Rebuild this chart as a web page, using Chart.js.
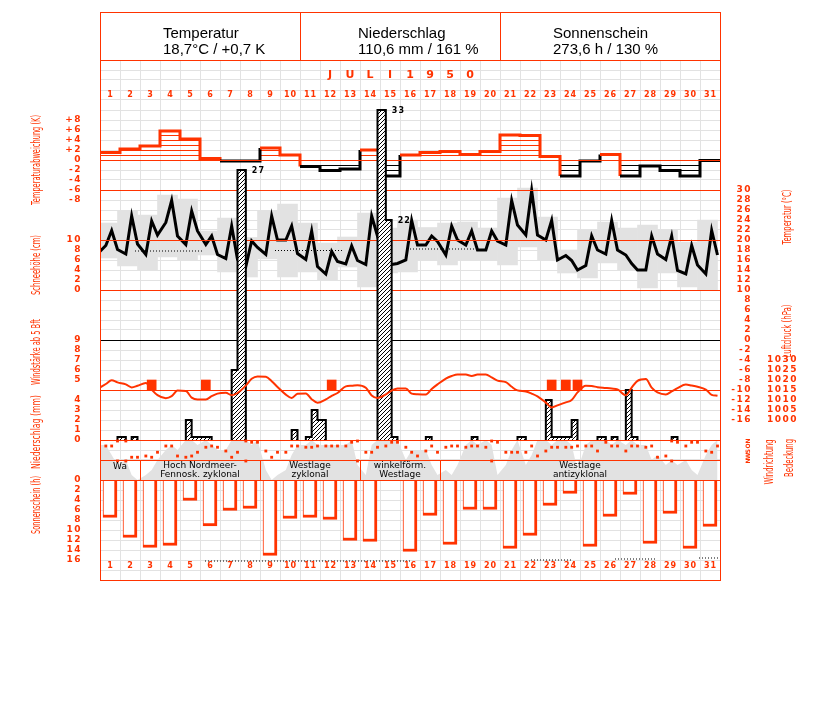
<!DOCTYPE html>
<html>
<head>
<meta charset="utf-8">
<title>Juli 1950</title>
<script src="https://cdn.jsdelivr.net/npm/chart.js@4.4.1/dist/chart.umd.min.js"></script>
<style>
  html, body { margin: 0; padding: 0; background: #fff; }
  #klima { display: block; }
</style>
</head>
<body>
<canvas id="klima" width="827" height="702"></canvas>
<script>
// ---- data ----
const days = [1, 2, 3, 4, 5, 6, 7, 8, 9, 10, 11, 12, 13, 14, 15, 16, 17, 18, 19, 20, 21, 22, 23, 24, 25, 26, 27, 28, 29, 30, 31];

// daily temperature anomaly (K)
const anomalyK = [1.5, 2.2, 2.8, 5.8, 4.2, 0.3, -0.2, -0.2, 2.4, 1.0, -1.3, -2.1, -1.8, 2.0, -3.2, 1.0,
  1.5, 1.7, 1.1, 1.7, 5.0, 4.9, 0.7, -3.2, -0.2, 1.1, -3.2, -1.2, -2.1, -3.2, -0.1];

// temperature at the 07, 14 and 21 h readings (°C)
const tempStart = 17.2;
const temp07 = [18.9, 17.2, 17.1, 23.5, 19.1, 19.1, 16.3, 14.7, 17.1, 20.0, 16.1, 13.2, 15.2, 15.1, 15.1, 16.0,
  19.0, 17.0, 19.0, 18.0, 19.0, 21.0, 20.0, 16.9, 14.9, 17.2, 17.0, 14.0, 16.1, 13.2, 13.2];
const temp14 = [21.9, 24.8, 23.8, 27.9, 25.8, 20.8, 22.8, 19.8, 24.8, 22.8, 21.8, 17.7, 18.8, 24.8, 15.1, 23.9,
  20.8, 22.8, 21.8, 21.8, 27.9, 29.9, 23.9, 15.9, 20.8, 23.9, 15.3, 20.8, 20.8, 18.9, 21.9];
const temp21 = [18.1, 19.2, 21.0, 20.8, 21.8, 17.1, 16.1, 18.5, 20.0, 17.3, 14.7, 15.7, 15.9, 20.8, 15.3, 19.0,
  19.7, 20.0, 18.0, 19.8, 23.0, 21.0, 16.0, 14.0, 18.0, 18.0, 14.0, 17.2, 13.9, 15.0, 17.0];

// daily extremes (°C), grey boxes
const tempMax = [23.4, 25.8, 25.0, 29.0, 28.2, 21.8, 24.4, 20.5, 25.8, 27.2, 23.4, 19.4, 20.6, 25.4, 22.4, 24.0,
  22.5, 23.4, 23.6, 22.4, 28.4, 30.4, 24.6, 18.0, 22.0, 23.6, 22.4, 23.0, 22.0, 19.6, 24.0];
const tempMin = [16.4, 14.8, 14.0, 16.6, 16.0, 17.0, 13.6, 12.6, 16.2, 12.6, 13.6, 12.0, 14.6, 10.6, 13.4, 13.6,
  16.0, 15.0, 16.0, 16.0, 15.0, 18.6, 16.0, 13.4, 12.4, 15.4, 14.0, 10.4, 13.4, 10.6, 10.0];

// dotted reference segments
const meanTempFrom = [2.25, 9.25, 16.0];
const meanTempTo = [5.65, 12.65, 19.35];
const meanTempValue = [17.8, 17.9, 18.2];
const possibleSunFrom = [5.75, 22.05, 26.25, 30.45];
const possibleSunTo = [16.0, 24.1, 28.3, 31.5];
const possibleSunHours = [16.2, 16.0, 15.8, 15.6];

// air pressure at 07, 14, 21 h (hPa)
const pressureStart = 1015.5;
const pressure07 = [1018.0, 1017.8, 1018.5, 1010.9, 1014.5, 1010.3, 1013.6, 1017.2, 1021.6, 1012.7, 1013.3, 1010.3,
  1016.8, 1016.1, 1012.8, 1015.8, 1012.8, 1020.7, 1022.7, 1022.8, 1018.9, 1014.3, 1008.7, 1008.8, 1017.1, 1016.0,
  1012.4, 1020.5, 1012.8, 1017.7, 1015.2];
const pressure14 = [1019.9, 1016.3, 1015.2, 1011.9, 1011.2, 1011.9, 1012.4, 1020.6, 1019.4, 1011.0, 1010.4, 1012.1,
  1017.1, 1012.3, 1014.7, 1013.2, 1015.5, 1022.0, 1022.0, 1021.3, 1016.6, 1013.2, 1006.3, 1010.0, 1017.0, 1015.7,
  1016.2, 1016.2, 1014.3, 1017.2, 1012.6];
const pressure21 = [1018.8, 1017.1, 1012.4, 1014.7, 1010.3, 1013.2, 1013.5, 1021.8, 1016.5, 1013.1, 1008.6, 1013.5,
  1017.4, 1011.0, 1015.8, 1012.9, 1017.8, 1022.8, 1022.7, 1019.7, 1014.8, 1011.8, 1007.3, 1013.8, 1016.4, 1015.3,
  1019.6, 1013.8, 1015.9, 1016.6, 1012.1];

// wind force >= 5 Bft
const windDay = [3, 6, 12, 23, 24, 24];
const windHour = [14, 7, 14, 14, 7, 21];
const windBft = [5, 5, 5, 5, 5, 5];
const WIND_FLOOR = 4;

// precipitation per reading interval (start day, start hour, mm)
const precipDay = [1, 2, 5, 5, 5, 6, 7, 7, 10, 11, 11, 11, 14, 15, 15, 17, 19, 21, 23, 23, 23, 24, 24, 25, 26, 27, 27, 29];
const precipHour = [21, 14, 7, 14, 21, 7, 14, 21, 14, 7, 14, 21, 21, 7, 14, 7, 14, 21, 7, 14, 21, 7, 14, 21, 14, 7, 14, 14];
const precipMM = [0.3, 0.3, 2, 0.3, 0.3, 0.3, 7, 27, 1, 0.3, 3, 2, 33, 22, 0.3, 0.3, 0.3, 0.3, 4, 0.3, 0.3, 0.3, 2, 0.3, 0.3, 5, 0.3, 0.3];

// wind direction at 07, 14, 21 h
const windDir07 = ['O', 'N', 'W', 'O', 'WNW', 'OSO', 'S', 'N', 'S', 'SSW', 'OSO', 'O', 'O', 'SSW', 'O', 'OSO',
  'S', 'OSO', 'OSO', 'OSO', 'SSW', 'SSW', 'S', 'OSO', 'O', 'NNO', 'S', 'OSO', 'W', 'O', 'S'];
const windDir14 = ['O', 'WNW', 'WNW', 'O', 'W', 'O', 'WNW', 'NNO', 'WNW', 'O', 'OSO', 'O', 'NNO', 'SSW', 'NNO', 'SSW',
  'O', 'O', 'O', 'N', 'SSW', 'O', 'OSO', 'OSO', 'O', 'O', 'O', 'O', 'N', 'NNO', 'SSW'];
const windDir21 = ['N', 'WNW', 'SSW', 'W', 'SSW', 'OSO', 'SSW', 'NNO', 'SSW', 'O', 'O', 'O', 'N', 'OSO', 'NNO', 'W',
  'SSW', 'O', 'O', 'NNO', 'SSW', 'W', 'OSO', 'O', 'S', 'O', 'O', 'WNW', 'NNO', 'NNO', 'O'];
const compassDeg = { N: 0, NNO: 22.5, NO: 45, ONO: 67.5, O: 90, OSO: 112.5, SO: 135, SSO: 157.5,
  S: 180, SSW: 202.5, SW: 225, WSW: 247.5, W: 270, WNW: 292.5, NW: 315, NNW: 337.5 };

// cloud cover (octas) at 07, 14, 21 h
const cloudStart = 7;
const cloud07 = [7, 4, 1, 6, 8, 8, 6, 8, 2, 2, 7, 7, 7, 1, 8, 4, 6, 2, 7, 8, 3, 3, 8, 8, 7, 8, 7, 7, 3, 4, 5];
const cloud14 = [5, 1, 2, 7, 8, 7, 8, 7, 0, 5, 8, 7, 8, 7, 8, 6, 3, 1, 8, 7, 6, 5, 7, 7, 8, 7, 8, 4, 4, 2, 7];
const cloud21 = [3, 0, 4, 6, 7, 6, 8, 8, 1, 7, 7, 7, 3, 8, 8, 6, 1, 3, 7, 1, 8, 8, 8, 2, 8, 8, 7, 5, 3, 1, 8];

// sunshine duration (h)
const sunshineHours = [7.5, 11.5, 13.5, 13.1, 4.1, 9.2, 6.1, 5.7, 15.1, 7.7, 7.5, 7.9, 12.1, 12.3, 0, 14.3,
  7.1, 12.9, 5.9, 5.9, 13.7, 11.1, 5.1, 2.7, 13.3, 7.3, 2.9, 12.7, 6.7, 13.7, 9.3];

// Großwetterlagen
const weatherFirstDay = [1, 3, 9, 14, 18];
const weatherLastDay = [2, 8, 13, 17, 31];
const weatherLines = [['Wa'], ['Hoch Nordmeer-', 'Fennosk. zyklonal'], ['Westlage', 'zyklonal'],
  ['winkelförm.', 'Westlage'], ['Westlage', 'antizyklonal']];

// header
const headerTitles = ['Temperatur', 'Niederschlag', 'Sonnenschein'];
const headerValues = ['18,7°C / +0,7 K', '110,6 mm / 161 %', '273,6 h / 130 %'];
const monthLabel = 'JULI 1950';

// tick labels
const anomalyTicks = [8, 6, 4, 2, 0, -2, -4, -6, -8];
const snowTicks = [10, 8, 6, 4, 2, 0];
const windTicks = [9, 8, 7, 6, 5];
const precipTicks = [4, 3, 2, 1, 0];
const sunTicks = [0, 2, 4, 6, 8, 10, 12, 14, 16];
const tempTicks = [30, 28, 26, 24, 22, 20, 18, 16, 14, 12, 10, 8, 6, 4, 2, 0, -2, -4, -6, -8, -10, -12, -14, -16];
const pressureTicks = [1030, 1025, 1020, 1015, 1010, 1005, 1000];
const directionTicks = ['N', 'O', 'S', 'W', 'N'];
const directionTickDeg = [0, 90, 180, 270, 360];

// ---- styling ----
const RED = '#ff3300';
const GRID = '#e2e2e2';
const SHADE = '#e2e2e2';
const TICK_FONT = 'bold 9px "DejaVu Sans", sans-serif';
const SMALL_FONT = 'bold 8px "DejaVu Sans", sans-serif';
const TITLE_FONT = '13px "Liberation Sans Narrow", "DejaVu Sans Condensed", "Liberation Sans", sans-serif';
const HEAD_FONT = '15px "Liberation Sans", Arial, sans-serif';

const canvas = document.getElementById('klima');
const mainCtx = canvas.getContext('2d');

function stripes(color, period) {
  const c = document.createElement('canvas');
  c.width = 1; c.height = period;
  const g = c.getContext('2d');
  g.fillStyle = color;
  g.fillRect(0, 0, 1, 1);
  return mainCtx.createPattern(c, 'repeat');
}

function hatch() {
  const c = document.createElement('canvas');
  c.width = 4; c.height = 4;
  const g = c.getContext('2d');
  g.fillStyle = '#fff';
  g.fillRect(0, 0, 4, 4);
  g.fillStyle = '#000';
  for (let i = 0; i < 4; i++) g.fillRect(i, 3 - i, 1, 1);
  return mainCtx.createPattern(c, 'repeat');
}

// ---- building the point lists ----
const obsHours = [7, 14, 21];
const obsPos = (day, hour) => day - 0.5 + hour / 24;

function threePerDay(a07, a14, a21) {
  const pts = [];
  days.forEach((d, i) => {
    pts.push({ x: obsPos(d, 7), y: a07[i] }, { x: obsPos(d, 14), y: a14[i] }, { x: obsPos(d, 21), y: a21[i] });
  });
  return pts;
}

const dayEdges = days.map(d => d - 0.5).concat(days[days.length - 1] + 0.5);

const anomalyPoints = days.map((d, i) => ({ x: d - 0.5, y: anomalyK[i] }));
anomalyPoints.push({ x: days[days.length - 1] + 0.5, y: anomalyK[anomalyK.length - 1] });

const tempPoints = [{ x: obsPos(0, 21), y: tempStart }].concat(threePerDay(temp07, temp14, temp21));
const pressurePoints = [{ x: obsPos(0, 21), y: pressureStart }].concat(threePerDay(pressure07, pressure14, pressure21));
const cloudPoints = [{ x: obsPos(0, 21), y: cloudStart }].concat(threePerDay(cloud07, cloud14, cloud21));

const rangeBars = days.map((d, i) => ({
  x: (obsPos(d - 1, 21) + obsPos(d, 21)) / 2, y: [tempMin[i], tempMax[i]]
}));

function dottedSegments(from, to, vals) {
  const pts = [];
  from.forEach((f, i) => {
    pts.push({ x: f, y: vals[i] }, { x: to[i], y: vals[i] }, { x: to[i] + 0.01, y: null });
  });
  return pts;
}

const sunBars = days.map((d, i) => ({ x: d, y: sunshineHours[i] }));
const windBars = windDay.map((d, i) => ({ x: obsPos(d, windHour[i]), y: [WIND_FLOOR, windBft[i]] }));

const dirPoints = [];
days.forEach((d, i) => {
  [windDir07[i], windDir14[i], windDir21[i]].forEach((code, k) => {
    const deg = compassDeg[code];
    dirPoints.push({ x: obsPos(d, obsHours[k]), y: deg });
    if (deg === 0) dirPoints.push({ x: obsPos(d, obsHours[k]), y: 360 });
  });
});

function intervalEnd(day, hour) {
  const k = obsHours.indexOf(hour);
  return k < 2 ? obsPos(day, obsHours[k + 1]) : obsPos(day + 1, obsHours[0]);
}

const precipPoints = [{ x: dayEdges[0], y: 0 }];
const precipLabels = [];
let openEnd = null;
precipDay.forEach((d, i) => {
  const x0 = obsPos(d, precipHour[i]);
  const x1 = intervalEnd(d, precipHour[i]);
  if (openEnd === x0) {
    precipPoints.pop();
  } else {
    precipPoints.push({ x: x0, y: 0 });
  }
  precipPoints.push({ x: x0, y: precipMM[i] });
  precipPoints.push({ x: x1, y: 0 });
  openEnd = x1;
  if (precipMM[i] >= 10) precipLabels.push({ x: x1, y: precipMM[i] });
});
precipPoints.push({ x: dayEdges[dayEdges.length - 1], y: 0 });

// ---- drawing helpers ----
function vText(ctx, text, x, y, maxW) {
  ctx.save();
  ctx.translate(x, y);
  ctx.rotate(-Math.PI / 2);
  ctx.textAlign = 'center';
  ctx.textBaseline = 'middle';
  ctx.fillText(text, 0, 0, maxW);
  ctx.restore();
}

function tickColumn(ctx, scale, values, xRight, fmt) {
  values.forEach(v => ctx.fillText(fmt ? fmt(v) : String(v), xRight, scale.getPixelForValue(v)));
}

function hLine(ctx, a, y, color) {
  const py = Math.round(y) + 0.5;
  ctx.strokeStyle = color;
  ctx.beginPath();
  ctx.moveTo(a.left, py);
  ctx.lineTo(a.right, py);
  ctx.stroke();
}

function drawRules(chart) {
  const { ctx, chartArea: a, scales: s } = chart;
  ctx.save();
  ctx.lineWidth = 1;
  hLine(ctx, a, s.yAnom.getPixelForValue(0), RED);
  hLine(ctx, a, s.yT.getPixelForValue(30), RED);
  hLine(ctx, a, s.yT.getPixelForValue(20), RED);
  hLine(ctx, a, s.yT.getPixelForValue(10), RED);
  hLine(ctx, a, s.yT.getPixelForValue(0), '#000');
  hLine(ctx, a, s.yP.getPixelForValue(1015), RED);
  hLine(ctx, a, s.yPr.getPixelForValue(0), RED);
  hLine(ctx, a, s.yCloud.getPixelForValue(4), RED);
  hLine(ctx, a, s.yCloud.getPixelForValue(0), RED);
  // Großwetterlage dividers
  const top = s.yCloud.getPixelForValue(4), bottom = s.yCloud.getPixelForValue(0);
  ctx.strokeStyle = RED;
  weatherFirstDay.slice(1).forEach(d => {
    const px = Math.round(s.x.getPixelForValue(d - 0.5)) + 0.5;
    ctx.beginPath();
    ctx.moveTo(px, top);
    ctx.lineTo(px, bottom);
    ctx.stroke();
  });
  ctx.restore();
}

const klimaPlugin = {
  id: 'klimaLabels',
  beforeDatasetsDraw(chart) {
    const { ctx, chartArea: a, scales: s } = chart;
    const top = s.yCloud.getPixelForValue(4), bottom = s.yCloud.getPixelForValue(0);
    ctx.save();
    ctx.fillStyle = '#fff';
    ctx.fillRect(a.left, top, a.right - a.left, bottom - top);
    ctx.restore();
  },
  afterDatasetDraw(chart, args) {
    if (chart.data.datasets[args.index].label === 'Sonnenschein') drawRules(chart);
  },
  afterDraw(chart) {
    const { ctx, chartArea: a, scales: s } = chart;
    const headTop = 12;
    ctx.save();

    // frame and header boxes
    ctx.strokeStyle = RED;
    ctx.lineWidth = 1;
    ctx.strokeRect(a.left + 0.5, headTop + 0.5, a.right - a.left, a.bottom - headTop);
    hLine(ctx, a, a.top, RED);
    [10.5, 20.5].forEach(v => {
      const px = Math.round(s.x.getPixelForValue(v)) + 0.5;
      ctx.beginPath();
      ctx.moveTo(px, headTop);
      ctx.lineTo(px, a.top);
      ctx.stroke();
    });
    const boxLeft = [0.5, 10.5, 20.5];
    const textIndent = [63, 58, 53];
    ctx.fillStyle = '#000';
    ctx.font = HEAD_FONT;
    ctx.textAlign = 'left';
    ctx.textBaseline = 'alphabetic';
    headerTitles.forEach((t, i) => {
      const x = s.x.getPixelForValue(boxLeft[i]) + textIndent[i];
      ctx.fillText(t, x, headTop + 25.5);
      ctx.fillText(headerValues[i], x, headTop + 42);
    });

    // month and day numbers
    ctx.fillStyle = RED;
    ctx.textAlign = 'center';
    ctx.textBaseline = 'middle';
    ctx.font = 'bold 11px "DejaVu Sans", sans-serif';
    monthLabel.replace(' ', '').split('').forEach((ch, i) => {
      ctx.fillText(ch, s.x.getPixelForValue(12 + i), s.yGrid.getPixelForValue(50.5));
    });
    ctx.font = SMALL_FONT;
    ctx.letterSpacing = '1px';
    days.forEach(d => {
      ctx.fillText(String(d), s.x.getPixelForValue(d) + 0.5, s.yGrid.getPixelForValue(48.5));
      ctx.fillText(String(d), s.x.getPixelForValue(d) + 0.5, s.yGrid.getPixelForValue(1.4));
    });

    // left tick columns
    ctx.font = TICK_FONT;
    ctx.letterSpacing = '1.5px';
    ctx.textAlign = 'right';
    const leftX = a.left - 18;
    tickColumn(ctx, s.yAnom, anomalyTicks, leftX, v => (v > 0 ? '+' + v : String(v)));
    tickColumn(ctx, s.ySnow, snowTicks, leftX);
    tickColumn(ctx, s.yW, windTicks, leftX);
    tickColumn(ctx, s.yPr, precipTicks, leftX);
    tickColumn(ctx, s.ySun, sunTicks, leftX);

    // right tick columns
    tickColumn(ctx, s.yT, tempTicks, a.right + 32);
    tickColumn(ctx, s.yP, pressureTicks, a.right + 78);
    ctx.font = 'bold 6px "DejaVu Sans", sans-serif';
    ctx.letterSpacing = '0px';
    directionTicks.forEach((ch, i) => vText(ctx, ch, a.right + 28, s.yDir.getPixelForValue(directionTickDeg[i])));

    // axis titles
    ctx.font = TITLE_FONT;
    const titleLeft = a.left - 63;
    vText(ctx, 'Temperaturabweichung (K)', titleLeft, s.yAnom.getPixelForValue(0), 90);
    vText(ctx, 'Schneehöhe (cm)', titleLeft, s.ySnow.getPixelForValue(5), 60);
    vText(ctx, 'Windstärke ab 5 Bft', titleLeft, s.yW.getPixelForValue(7.8), 66);
    vText(ctx, 'Niederschlag (mm)', titleLeft, s.yPr.getPixelForValue(0.8), 74);
    vText(ctx, 'Sonnenschein (h)', titleLeft, s.ySun.getPixelForValue(5), 58);
    vText(ctx, 'Temperatur (°C)', a.right + 68, s.yT.getPixelForValue(24.6), 55);
    vText(ctx, 'Luftdruck (hPa)', a.right + 68, s.yP.getPixelForValue(1044.5), 53);
    vText(ctx, 'Windrichtung', a.right + 50, s.yDir.getPixelForValue(378), 45);
    vText(ctx, 'Bedeckung', a.right + 70, s.yCloud.getPixelForValue(4.4), 38);

    // precipitation values beyond the panel
    ctx.fillStyle = '#000';
    ctx.font = SMALL_FONT;
    ctx.letterSpacing = '1px';
    ctx.textAlign = 'left';
    precipLabels.forEach(p => ctx.fillText(String(p.y), s.x.getPixelForValue(p.x) + 6, s.yPr.getPixelForValue(p.y) + 1));

    // Großwetterlagen
    ctx.letterSpacing = '0px';
    ctx.font = '9px "DejaVu Sans", sans-serif';
    ctx.textAlign = 'center';
    weatherLines.forEach((lines, i) => {
      const cx = s.x.getPixelForValue((weatherFirstDay[i] + weatherLastDay[i]) / 2);
      if (lines.length === 1) {
        ctx.fillText(lines[0], cx, s.yCloud.getPixelForValue(2.7));
      } else {
        ctx.fillText(lines[0], cx, s.yCloud.getPixelForValue(2.9), 96);
        ctx.fillText(lines[1], cx, s.yCloud.getPixelForValue(1.1), 96);
      }
    });
    ctx.restore();
  }
};

const chart = new Chart(canvas, {
  type: 'line',
  data: {
    datasets: [
      {
        label: 'Bedeckung', yAxisID: 'yCloud', data: cloudPoints,
        fill: 'origin', backgroundColor: SHADE, borderWidth: 0, pointRadius: 0, order: 20
      },
      {
        label: 'Temperaturspanne', type: 'bar', yAxisID: 'yT', data: rangeBars,
        backgroundColor: SHADE, barThickness: 20, grouped: false, order: 19
      },
      {
        label: 'Temperaturmittel', yAxisID: 'yT', data: dottedSegments(meanTempFrom, meanTempTo, meanTempValue),
        borderColor: '#000', borderWidth: 1, borderDash: [1, 2], pointRadius: 0, spanGaps: false, order: 18
      },
      {
        label: 'Sonnenscheindauer möglich', yAxisID: 'ySun', data: dottedSegments(possibleSunFrom, possibleSunTo, possibleSunHours),
        borderColor: '#000', borderWidth: 1, borderDash: [1, 2], pointRadius: 0, spanGaps: false, order: 17
      },
      {
        label: 'Temperaturabweichung', yAxisID: 'yAnom', data: anomalyPoints, stepped: true,
        borderWidth: 3, borderColor: RED, pointRadius: 0,
        segment: { borderColor: c => (c.p0.parsed.y < 0 ? '#000' : RED) },
        fill: { target: 'origin', above: stripes(RED, 5), below: stripes('#000', 5) },
        order: 16
      },
      {
        label: 'Temperatur', yAxisID: 'yT', data: tempPoints,
        borderColor: '#000', borderWidth: 3, pointRadius: 0, tension: 0, order: 15
      },
      {
        label: 'Sonnenschein', type: 'bar', yAxisID: 'ySun', data: sunBars,
        backgroundColor: '#fff', borderColor: RED,
        borderWidth: { top: 0, left: 1, right: 3, bottom: 3 }, borderSkipped: false,
        barThickness: 14, grouped: false, order: 14
      },
      {
        label: 'Niederschlag', yAxisID: 'yPr', data: precipPoints, stepped: true,
        borderColor: '#000', borderWidth: 2, pointRadius: 0,
        segment: { borderColor: c => (c.p0.parsed.y === 0 && c.p1.parsed.y === 0 ? 'rgba(0,0,0,0)' : '#000') },
        fill: 'origin', backgroundColor: hatch(), order: 13
      },
      {
        label: 'Luftdruck', yAxisID: 'yP', data: pressurePoints,
        borderColor: RED, borderWidth: 2, pointRadius: 0, cubicInterpolationMode: 'monotone', order: 12
      },
      {
        label: 'Windstärke', type: 'bar', yAxisID: 'yW', data: windBars,
        backgroundColor: RED, barThickness: 9, grouped: false, order: 11
      },
      {
        label: 'Windrichtung', yAxisID: 'yDir', data: dirPoints, showLine: false,
        pointStyle: 'rect', pointRadius: 2, pointBackgroundColor: RED, pointBorderWidth: 0, order: 10
      }
    ]
  },
  options: {
    responsive: false,
    devicePixelRatio: 1,
    animation: false,
    events: [],
    layout: { padding: { left: 100, top: 60, right: 107, bottom: 122 } },
    plugins: { legend: { display: false }, tooltip: { enabled: false } },
    scales: {
      x: {
        type: 'linear', min: 0.5, max: 31.5, offset: false,
        afterBuildTicks: sc => { sc.ticks = dayEdges.map(v => ({ value: v })); },
        afterFit: sc => { sc.height = 0; },
        ticks: { display: false },
        grid: { color: GRID, drawTicks: false, offset: false },
        border: { display: false }
      },
      yGrid: {
        type: 'linear', position: 'left', min: 0, max: 52,
        afterBuildTicks: sc => { sc.ticks = Array.from({ length: 53 }, (_, i) => ({ value: i })); },
        afterFit: sc => { sc.width = 0; },
        ticks: { display: false },
        grid: { color: GRID, drawTicks: false },
        border: { display: false }
      },
      yAnom: { type: 'linear', display: false, min: -84, max: 20 },
      yT: { type: 'linear', display: false, min: -48, max: 56 },
      ySnow: { type: 'linear', display: false, min: -58, max: 46 },
      yP: { type: 'linear', display: false, min: 920, max: 1180 },
      yW: { type: 'linear', display: false, min: -15, max: 37 },
      yPr: { type: 'linear', display: false, min: -14, max: 38 },
      ySun: { type: 'linear', display: false, min: -84, max: 20, reverse: true },
      yCloud: { type: 'linear', display: false, min: -20, max: 84 },
      yDir: { type: 'linear', display: false, min: -6858, max: 2502, reverse: true }
    }
  },
  plugins: [klimaPlugin]
});
</script>
</body>
</html>
